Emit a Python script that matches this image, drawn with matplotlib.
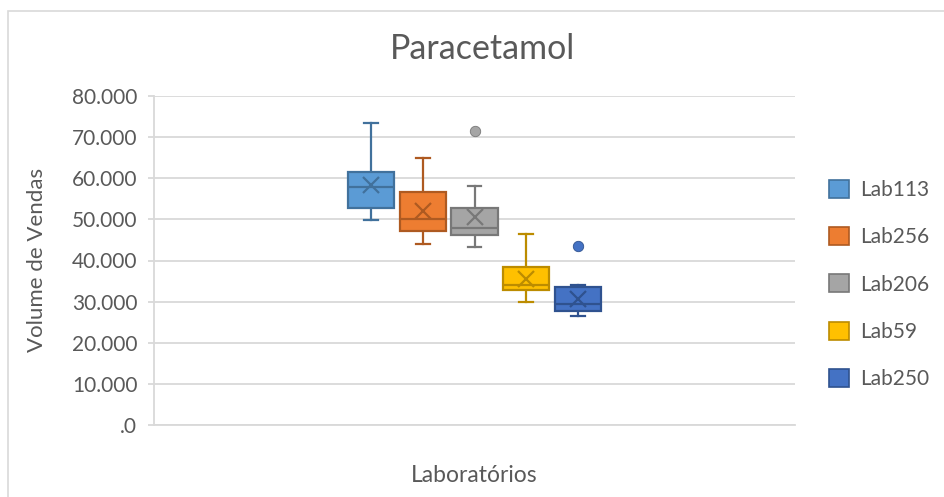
import matplotlib.pyplot as plt
from matplotlib.patches import Patch, Rectangle
from matplotlib.ticker import FuncFormatter

plt.rcParams['font.family'] = ['Lato', 'DejaVu Sans']

labs = ["Lab113", "Lab256", "Lab206", "Lab59", "Lab250"]
whislo = [49800, 44100, 43300, 29800, 26400]
q1 = [52800, 47100, 46300, 32800, 27700]
med = [57800, 50000, 47900, 34000, 29500]
q3 = [61500, 56600, 52800, 38400, 33600]
whishi = [73400, 64900, 58000, 46500, 34000]
means = [58300, 52000, 50500, 35400, 30600]
outliers = [[], [], [71600], [], [43500]]

fills = ["#5B9BD5", "#ED7D31", "#A5A5A5", "#FFC000", "#4472C4"]
edges = ["#41719C", "#AE5A21", "#787878", "#BC8C00", "#2F528F"]
text_col = "#595959"
grid_col = "#D9D9D9"

stats = []
for i in range(len(labs)):
    stats.append({"label": labs[i], "whislo": whislo[i], "q1": q1[i], "med": med[i],
                  "q3": q3[i], "whishi": whishi[i], "mean": means[i],
                  "fliers": outliers[i]})

fig = plt.figure(figsize=(9.45, 4.97), dpi=100)
ax = fig.add_axes([154 / 945, 1 - 425 / 497, 641 / 945, 329 / 497])

positions = [1, 2, 3, 4, 5]
bp = ax.bxp(stats, positions=positions, widths=0.9, patch_artist=True,
            showmeans=True, capwidths=0.26, manage_ticks=False)

for i in range(len(labs)):
    bp['boxes'][i].set(facecolor=fills[i], edgecolor=edges[i], linewidth=1.6)
    bp['medians'][i].set(color=edges[i], linewidth=1.6)
    for ln in bp['whiskers'][2 * i:2 * i + 2] + bp['caps'][2 * i:2 * i + 2]:
        ln.set(color=edges[i], linewidth=1.6)
    bp['means'][i].set(marker='x', markersize=12, markeredgecolor=edges[i],
                       markeredgewidth=1.6)
    bp['fliers'][i].set(marker='o', markersize=7.5, markerfacecolor=fills[i],
                        markeredgecolor=edges[i], markeredgewidth=0.6)
    for a in [bp['boxes'][i], bp['medians'][i], bp['means'][i]]:
        a.set_zorder(3)

ax.set_xlim(-3.2, 9.2)
ax.set_ylim(0, 80000)
ax.set_yticks(range(0, 80001, 10000))
ax.yaxis.set_major_formatter(FuncFormatter(
    lambda v, p: ".0" if v == 0 else f"{v:,.0f}".replace(",", ".")))
ax.set_xticks([])
ax.grid(axis='y', color=grid_col, linewidth=1.3)
ax.set_axisbelow(True)
for s in ['top', 'right']:
    ax.spines[s].set_visible(False)
for s in ['left', 'bottom']:
    ax.spines[s].set_color(grid_col)
    ax.spines[s].set_linewidth(1.3)
ax.tick_params(axis='y', colors=grid_col, labelcolor=text_col, labelsize=15,
               length=4, width=1.3, pad=8)

fig.text(483 / 945, 1 - 59 / 497, "Paracetamol", ha='center', va='baseline',
         fontsize=24.5, color=text_col)
fig.text(474 / 945, 1 - 482 / 497, "Laboratórios", ha='center', va='baseline',
         fontsize=16.5, color=text_col)
fig.text(37 / 945, 1 - 260 / 497, "Volume de Vendas", ha='center', va='center',
         rotation=90, fontsize=16, color=text_col)

handles = [Patch(facecolor=fills[i], edgecolor=edges[i], linewidth=1.2)
           for i in range(len(labs))]
fig.legend(handles, labs, loc='center left', bbox_to_anchor=(829 / 945, 1 - 284.5 / 497),
           frameon=False, fontsize=15, labelcolor=text_col, borderpad=0,
           borderaxespad=0, handlelength=0.95, handleheight=0.95,
           handletextpad=0.55, labelspacing=1.3)

fig.add_artist(Rectangle((8.5 / 945, -0.1), 1.2, 1.1 - 10.5 / 497,
                         transform=fig.transFigure, fill=False,
                         edgecolor=grid_col, linewidth=1.2))

fig.savefig("out.png", dpi=100)
